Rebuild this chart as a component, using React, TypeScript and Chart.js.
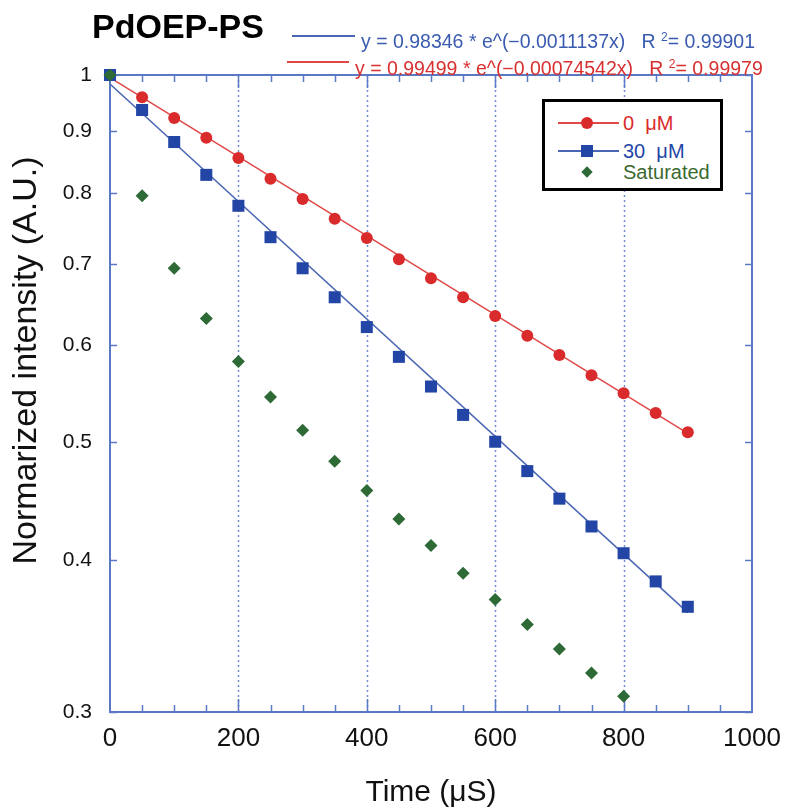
import React, { useEffect, useRef } from "react";
import { Chart, registerables } from "chart.js";
Chart.register(...registerables);

const xValues = [0, 50, 100, 150, 200, 250, 300, 350, 400, 450, 500, 550, 600, 650, 700, 750, 800, 850, 900];
const series0uM = [1.0, 0.959, 0.922, 0.888, 0.855, 0.822, 0.791, 0.762, 0.735, 0.706, 0.681, 0.657, 0.634, 0.611, 0.589, 0.567, 0.548, 0.528, 0.509];
const series30uM = [1.0, 0.936, 0.881, 0.828, 0.781, 0.736, 0.694, 0.657, 0.621, 0.587, 0.555, 0.526, 0.5, 0.473, 0.449, 0.426, 0.405, 0.384, 0.366];
const satX = [0, 50, 100, 150, 200, 250, 300, 350, 400, 450, 500, 550, 600, 650, 700, 750, 800];
const seriesSaturated = [1.0, 0.796, 0.694, 0.631, 0.582, 0.544, 0.511, 0.482, 0.456, 0.432, 0.411, 0.39, 0.371, 0.354, 0.338, 0.323, 0.309];
const fitX = [0, 900];
const fit0uM = [0.995, 0.508];
const fit30uM = [0.983, 0.362];

const yTickValues = [0.3, 0.4, 0.5, 0.6, 0.7, 0.8, 0.9, 1];
const xTickValues = [0, 200, 400, 600, 800, 1000];
const xGridValues = [200, 400, 600, 800];
const xMinorTickValues = [50, 100, 150, 200, 250, 300, 350, 400, 450, 500, 550, 600, 650, 700, 750, 800, 850, 900, 950];
const yTitle = "Normarized intensity (A.U.)";

const FONT = "'Liberation Sans', Arial, sans-serif";
const AXIS = "#5b78c4";
const RED = "#d92b2b";
const RED_LINE = "#e04848";
const BLUE = "#2346a6";
const BLUE_LINE = "#4a66b4";
const GREEN = "#2d6a36";

const pts = (xs: number[], ys: number[]) => xs.map((x, i) => ({ x, y: ys[i] }));

const decor = {
  id: "decor",
  beforeDatasetsDraw(chart: any) {
    const { ctx, chartArea, scales } = chart;
    const { left, right, top, bottom } = chartArea;
    const x = scales.x;
    const y = scales.y;
    ctx.save();
    ctx.strokeStyle = "#6f8bd2";
    ctx.lineWidth = 1.5;
    ctx.setLineDash([2, 3]);
    for (const v of xGridValues) {
      const px = Math.round(x.getPixelForValue(v)) + 0.5;
      ctx.beginPath();
      ctx.moveTo(px, top);
      ctx.lineTo(px, bottom);
      ctx.stroke();
    }
    ctx.setLineDash([]);
    ctx.strokeStyle = AXIS;
    ctx.lineWidth = 2;
    ctx.beginPath();
    ctx.moveTo(left, top);
    ctx.lineTo(right, top);
    ctx.lineTo(right, bottom);
    ctx.stroke();
    ctx.lineWidth = 1.5;
    for (const v of xMinorTickValues) {
      const px = Math.round(x.getPixelForValue(v)) + 0.5;
      const len = v % 200 === 0 ? 13 : 7;
      ctx.beginPath();
      ctx.moveTo(px, bottom);
      ctx.lineTo(px, bottom - len);
      ctx.moveTo(px, top);
      ctx.lineTo(px, top + len);
      ctx.stroke();
    }
    for (const v of yTickValues) {
      const py = Math.round(y.getPixelForValue(v)) + 0.5;
      ctx.beginPath();
      ctx.moveTo(left, py);
      ctx.lineTo(left + 7, py);
      ctx.moveTo(right, py);
      ctx.lineTo(right - 7, py);
      ctx.stroke();
    }
    // y axis title (placed like the original, slightly above the axis centre)
    ctx.fillStyle = "#111";
    ctx.font = `34px ${FONT}`;
    ctx.textAlign = "center";
    ctx.textBaseline = "middle";
    ctx.translate(27, (top + bottom) / 2 - 33);
    ctx.rotate(-Math.PI / 2);
    ctx.fillText(yTitle, 0, 0);
    ctx.restore();
  },
};

export default function App() {
  const ref = useRef<HTMLCanvasElement>(null);
  useEffect(() => {
    const chart = new Chart(ref.current as HTMLCanvasElement, {
      type: "scatter",
      data: {
        datasets: [
          {
            label: "Saturated",
            data: pts(satX, seriesSaturated),
            showLine: false,
            pointStyle: "rectRot",
            pointRadius: 6.5,
            backgroundColor: GREEN,
            borderColor: GREEN,
            borderWidth: 0,
            order: 0,
            clip: false,
          },
          {
            label: "30 μM",
            data: pts(xValues, series30uM),
            showLine: false,
            pointStyle: "rect",
            pointRadius: 8.5,
            backgroundColor: BLUE,
            borderColor: BLUE,
            borderWidth: 0,
            order: 1,
            clip: false,
          },
          {
            label: "0 μM",
            data: pts(xValues, series0uM),
            showLine: false,
            pointStyle: "circle",
            pointRadius: 6,
            backgroundColor: RED,
            borderColor: RED,
            borderWidth: 0,
            order: 2,
            clip: false,
          },
          {
            label: "fit 30",
            data: pts(fitX, fit30uM),
            showLine: true,
            pointRadius: 0,
            borderColor: BLUE_LINE,
            borderWidth: 1.5,
            order: 3,
          },
          {
            label: "fit 0",
            data: pts(fitX, fit0uM),
            showLine: true,
            pointRadius: 0,
            borderColor: RED_LINE,
            borderWidth: 1.5,
            order: 4,
          },
        ] as any,
      },
      options: {
        responsive: false,
        animation: false,
        layout: { padding: { left: 0, top: 75, right: 34, bottom: 0 } },
        plugins: { legend: { display: false }, tooltip: { enabled: false } },
        scales: {
          x: {
            type: "linear",
            min: 0,
            max: 1000,
            afterBuildTicks: (s: any) => {
              s.ticks = xTickValues.map((v) => ({ value: v }));
            },
            afterFit: (s: any) => {
              s.height = 100;
              s.paddingLeft = 0;
              s.paddingRight = 0;
            },
            ticks: {
              font: { family: FONT, size: 26 },
              color: "#111",
              padding: 11,
              maxRotation: 0,
              callback: (v: any) => String(v),
            },
            grid: { display: false, drawTicks: false },
            border: { display: true, color: AXIS, width: 2 },
            title: {
              display: true,
              text: "Time (μS)",
              font: { family: FONT, size: 30 },
              color: "#111",
              padding: { top: 0, bottom: 1 },
            },
          },
          y: {
            type: "logarithmic",
            min: 0.3,
            max: 1,
            afterBuildTicks: (s: any) => {
              s.ticks = yTickValues.map((v) => ({ value: v }));
            },
            afterFit: (s: any) => {
              s.width = 110;
              s.paddingTop = 0;
              s.paddingBottom = 0;
            },
            ticks: {
              font: { family: FONT, size: 21 },
              color: "#111",
              padding: 18,
              callback: (v: any) => (Number(v) === 1 ? "1" : Number(v).toFixed(1)),
            },
            grid: { display: false, drawTicks: false },
            border: { display: true, color: AXIS, width: 2 },
            title: { display: false },
          },
        },
      },
      plugins: [decor],
    });
    return () => chart.destroy();
  }, []);

  const row = (top: number, color: string, text: string, marker: React.ReactNode, line: boolean, lineColor: string) => (
    <div style={{ position: "absolute", left: 0, top: top, width: 175, height: 0 }}>
      {line && (
        <div style={{ position: "absolute", left: 13, top: -0.75, width: 61, height: 1.5, background: lineColor }} />
      )}
      {marker}
      <div
        style={{
          position: "absolute",
          left: 78,
          top: -12,
          height: 24,
          lineHeight: "24px",
          fontSize: 20,
          color: color,
          whiteSpace: "pre",
        }}
      >
        {text}
      </div>
    </div>
  );

  return (
    <div style={{ position: "absolute", left: 0, top: 0, width: 786, height: 812, background: "#fff", fontFamily: FONT }}>
      <canvas ref={ref} width={786} height={812} style={{ position: "absolute", left: 0, top: 0 }} />
      <div
        style={{
          position: "absolute",
          left: 92,
          top: 9,
          fontSize: 34,
          lineHeight: "34px",
          fontWeight: "bold",
          color: "#000",
          whiteSpace: "nowrap",
        }}
      >
        PdOEP-PS
      </div>
      <div style={{ position: "absolute", left: 292, top: 35, width: 63, height: 1.5, background: BLUE_LINE }} />
      <div
        style={{ position: "absolute", left: 361, top: 31.5, fontSize: 19.5, lineHeight: "19.5px", color: "#3a5bb0", whiteSpace: "pre" }}
      >
        {"y = 0.98346 * e^(−0.0011137x)   R "}
        <sup style={{ fontSize: 12, verticalAlign: "7px", lineHeight: 0 }}>2</sup>
        {"= 0.99901"}
      </div>
      <div style={{ position: "absolute", left: 287, top: 61, width: 62, height: 1.5, background: RED_LINE }} />
      <div
        style={{ position: "absolute", left: 355, top: 58.5, fontSize: 19.5, lineHeight: "19.5px", color: "#d83030", whiteSpace: "pre" }}
      >
        {"y = 0.99499 * e^(−0.00074542x)   R "}
        <sup style={{ fontSize: 12, verticalAlign: "7px", lineHeight: 0 }}>2</sup>
        {"= 0.99979"}
      </div>
      <div
        style={{
          position: "absolute",
          left: 542,
          top: 99,
          width: 181,
          height: 92,
          boxSizing: "border-box",
          border: "3px solid #000",
          background: "#fff",
        }}
      >
        {row(
          21,
          RED,
          "0  μM",
          <div style={{ position: "absolute", left: 36, top: -6, width: 12, height: 12, borderRadius: 6, background: RED }} />,
          true,
          RED_LINE
        )}
        {row(
          49,
          BLUE,
          "30  μM",
          <div style={{ position: "absolute", left: 36, top: -6, width: 12, height: 12, background: BLUE }} />,
          true,
          BLUE_LINE
        )}
        {row(
          70,
          "#3a6a30",
          "Saturated",
          <div
            style={{
              position: "absolute",
              left: 38,
              top: -4,
              width: 8,
              height: 8,
              background: GREEN,
              transform: "rotate(45deg)",
            }}
          />,
          false,
          GREEN
        )}
      </div>
    </div>
  );
}
